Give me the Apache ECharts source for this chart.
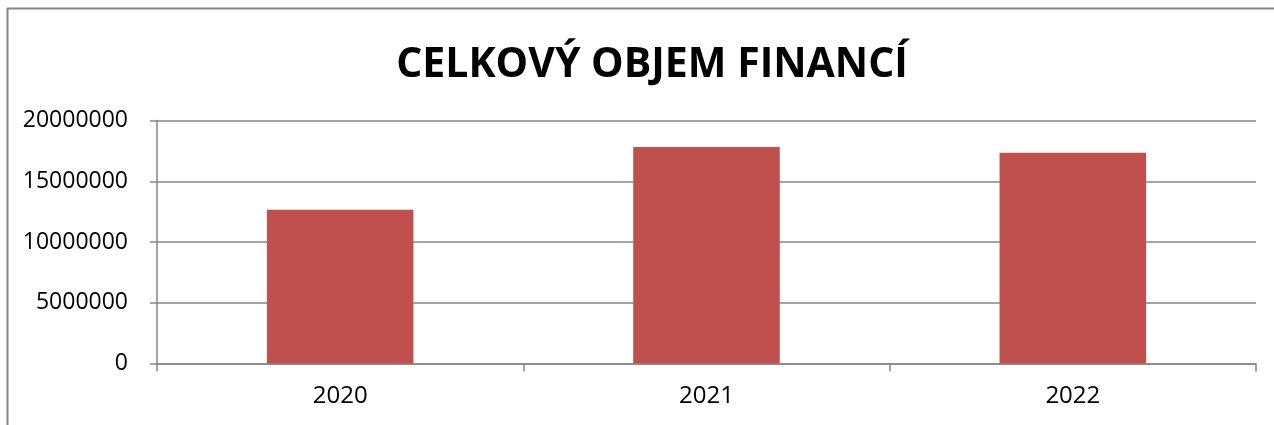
<!DOCTYPE html>
<html>
<head>
<meta charset="utf-8">
<script src="https://cdn.jsdelivr.net/npm/echarts@6/dist/echarts.min.js"></script>
<style>
html,body{margin:0;padding:0;background:#fff;}
#chart{width:1274px;height:425px;}
</style>
</head>
<body>
<div id="chart"></div>
<script>
const titleText = 'CELKOVÝ OBJEM FINANCÍ';
const categories = ['2020', '2021', '2022'];
const values = [12650000, 17810000, 17340000];
const yTicks = { min: 0, max: 20000000, interval: 5000000 };

const chart = echarts.init(document.getElementById('chart'), null, { renderer: 'canvas' });
chart.setOption({
  animation: false,
  backgroundColor: '#ffffff',
  title: {
    text: titleText,
    left: 647,
    textAlign: 'center',
    top: 40,
    textStyle: { fontFamily: 'Open Sans', fontWeight: 'bold', fontSize: 41, color: '#000' }
  },
  graphic: [
    { type: 'line', shape: { x1: 7.5, y1: 8, x2: 7.5, y2: 425 }, style: { stroke: '#868686', lineWidth: 2 } },
    { type: 'line', shape: { x1: 7, y1: 8.5, x2: 1274, y2: 8.5 }, style: { stroke: '#868686', lineWidth: 2 } }
  ],
  grid: { left: 157, right: 18, top: 120.5, bottom: 61.5, containLabel: false },
  xAxis: {
    type: 'category',
    data: categories,
    axisLine: { lineStyle: { color: '#868686', width: 1.5 } },
    axisTick: { show: true, length: 8, lineStyle: { color: '#868686', width: 1.5 } },
    axisLabel: { fontFamily: 'Open Sans', fontSize: 24, color: '#000', margin: 21 }
  },
  yAxis: {
    type: 'value',
    min: yTicks.min,
    max: yTicks.max,
    interval: yTicks.interval,
    axisLine: { show: true, lineStyle: { color: '#868686', width: 1.5 } },
    axisTick: { show: true, length: 7, lineStyle: { color: '#868686', width: 1.5 } },
    splitLine: { lineStyle: { color: '#868686', width: 1.5 } },
    axisLabel: { fontFamily: 'Open Sans', fontSize: 23, color: '#000', margin: 29, formatter: v => String(v) }
  },
  series: [{
    type: 'bar',
    data: values,
    barWidth: '40%',
    itemStyle: { color: '#C0504D' }
  }]
});
</script>
</body>
</html>
